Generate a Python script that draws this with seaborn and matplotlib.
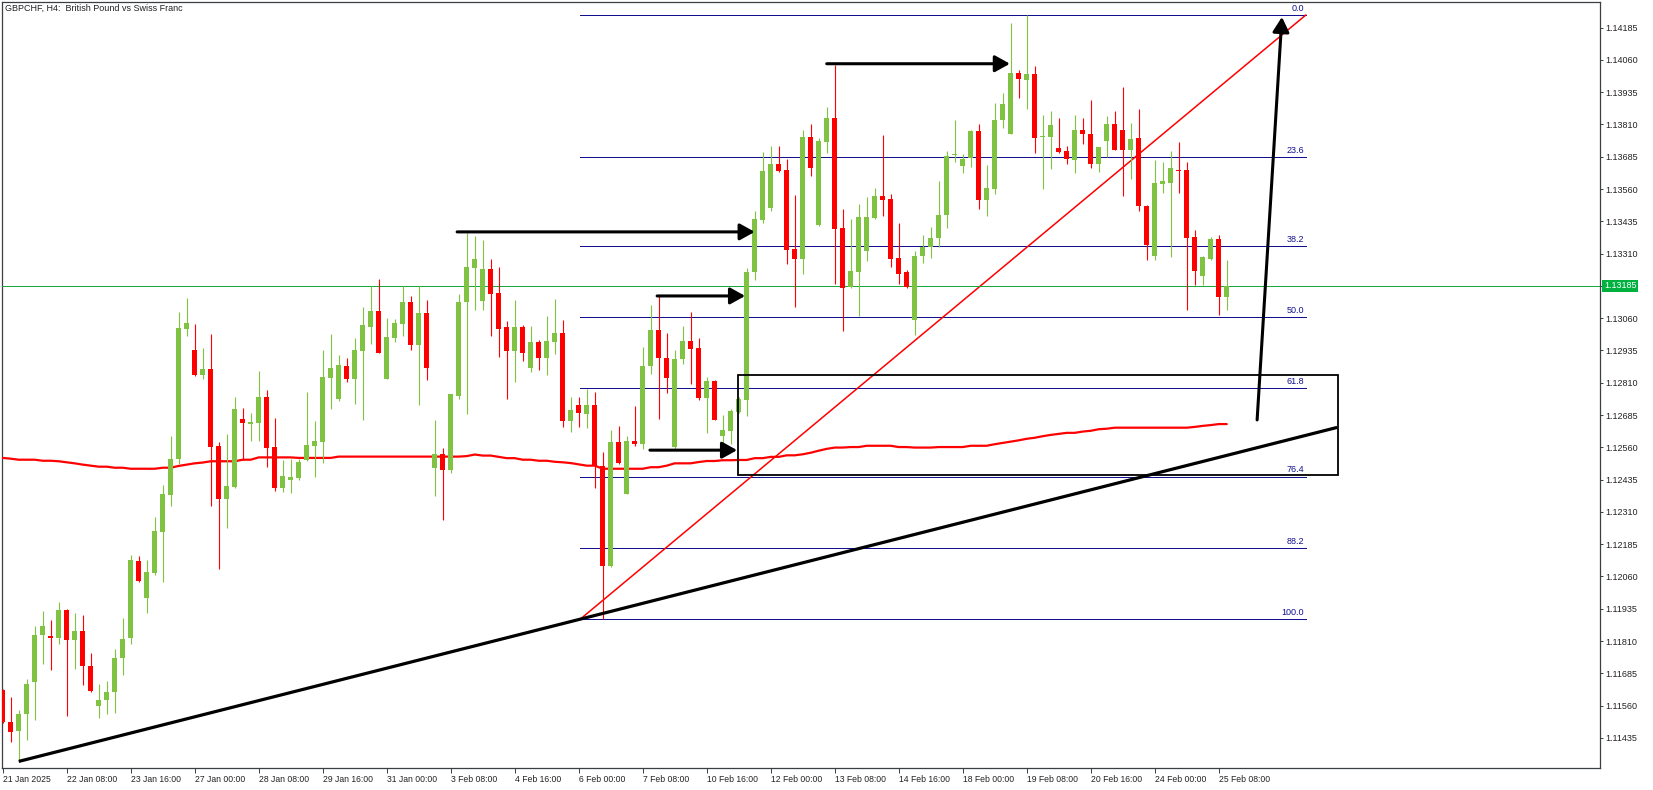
import numpy as np
import pandas as pd
import seaborn as sns
import matplotlib.pyplot as plt
from matplotlib.patches import Rectangle

# GBPCHF H4 candles, 21 Jan 2025 00:00 .. 25 Feb 2025 12:00
open_ = [1.11619, 1.11497, 1.11460, 1.11526, 1.11650, 1.11832, 1.11828, 1.11820, 1.11931, 1.11815,
         1.11850, 1.11714, 1.11557, 1.11583, 1.11611, 1.11746, 1.11820, 1.12120, 1.11975, 1.12075,
         1.12234, 1.12377, 1.12513, 1.13018, 1.12937, 1.12840, 1.12863, 1.12565, 1.12358, 1.12407,
         1.12670, 1.12652, 1.12656, 1.12755, 1.12562, 1.12403, 1.12434, 1.12442, 1.12511, 1.12565,
         1.12581, 1.12829, 1.12747, 1.12875, 1.12825, 1.12933, 1.13026, 1.13088, 1.12825, 1.12983,
         1.13038, 1.13123, 1.12956, 1.13080, 1.12480, 1.12535, 1.12473, 1.12759, 1.13123, 1.13254,
         1.13127, 1.13251, 1.13158, 1.13026, 1.12933, 1.13026, 1.12867, 1.12968, 1.12906, 1.12968,
         1.13003, 1.12662, 1.12724, 1.12689, 1.12724, 1.12486, 1.12102, 1.12581, 1.12381, 1.12585,
         1.12571, 1.12873, 1.13014, 1.12906, 1.12563, 1.12900, 1.12972, 1.12945, 1.12749, 1.12817,
         1.12605, 1.12625, 1.12698, 1.12745, 1.13239, 1.13440, 1.13487, 1.13657, 1.13634, 1.13328,
         1.13289, 1.13761, 1.13421, 1.13742, 1.13835, 1.13409, 1.13181, 1.13239, 1.13320, 1.13448,
         1.13533, 1.13521, 1.13293, 1.13239, 1.13053, 1.13301, 1.13336, 1.13370, 1.13459, 1.13692,
         1.13649, 1.13680, 1.13784, 1.13518, 1.13559, 1.13826, 1.13774, 1.14009, 1.13982, 1.14005,
         1.13760, 1.13763, 1.13719, 1.13707, 1.13674, 1.13788, 1.13773, 1.13658, 1.13746, 1.13812,
         1.13788, 1.13712, 1.13757, 1.13496, 1.13301, 1.13581, 1.13583, 1.13634, 1.13634, 1.13374,
         1.13223, 1.13289, 1.13367, 1.13140]
high = [1.11624, 1.11595, 1.11544, 1.11664, 1.11869, 1.11927, 1.11892, 1.11963, 1.11933, 1.11920,
        1.11911, 1.11763, 1.11644, 1.11656, 1.11780, 1.11900, 1.12144, 1.12140, 1.12124, 1.12292,
        1.12414, 1.12604, 1.13084, 1.13138, 1.13038, 1.12945, 1.12999, 1.12580, 1.12612, 1.12755,
        1.12712, 1.12693, 1.12856, 1.12782, 1.12674, 1.12511, 1.12515, 1.12515, 1.12774, 1.12662,
        1.12937, 1.12999, 1.12918, 1.12906, 1.12983, 1.13103, 1.13185, 1.13212, 1.13061, 1.13057,
        1.13185, 1.13146, 1.13185, 1.13131, 1.12666, 1.12558, 1.12767, 1.13154, 1.13390, 1.13378,
        1.13363, 1.13289, 1.13258, 1.13049, 1.13131, 1.13034, 1.13030, 1.12976, 1.13069, 1.13134,
        1.13053, 1.12755, 1.12755, 1.12786, 1.12774, 1.12540, 1.12627, 1.12643, 1.12604, 1.12720,
        1.12949, 1.13111, 1.13146, 1.13003, 1.12937, 1.13030, 1.13084, 1.12983, 1.12832, 1.12821,
        1.12685, 1.12709, 1.12756, 1.13253, 1.13475, 1.13703, 1.13727, 1.13727, 1.13676, 1.13537,
        1.13788, 1.13812, 1.13757, 1.13877, 1.14040, 1.13483, 1.13444, 1.13502, 1.13529, 1.13564,
        1.13769, 1.13541, 1.13429, 1.13247, 1.13320, 1.13382, 1.13413, 1.13591, 1.13707, 1.13827,
        1.13696, 1.13788, 1.13812, 1.13653, 1.13893, 1.13932, 1.14203, 1.14021, 1.14234, 1.14036,
        1.13847, 1.13862, 1.13836, 1.13727, 1.13847, 1.13835, 1.13905, 1.13723, 1.13843, 1.13862,
        1.13955, 1.13816, 1.13870, 1.13498, 1.13672, 1.13665, 1.13707, 1.13742, 1.13665, 1.13401,
        1.13301, 1.13374, 1.13382, 1.13285]
low = [1.11492, 1.11421, 1.11344, 1.11428, 1.11505, 1.11722, 1.11699, 1.11799, 1.11521, 1.11701,
       1.11641, 1.11614, 1.11514, 1.11528, 1.11533, 1.11679, 1.11800, 1.12039, 1.11920, 1.12064,
       1.12040, 1.12331, 1.12497, 1.12992, 1.12836, 1.12826, 1.12331, 1.12089, 1.12246, 1.12403,
       1.12511, 1.12585, 1.12585, 1.12484, 1.12391, 1.12387, 1.12384, 1.12434, 1.12507, 1.12445,
       1.12500, 1.12709, 1.12740, 1.12813, 1.12728, 1.12666, 1.12960, 1.12925, 1.12825, 1.12968,
       1.12991, 1.12937, 1.12724, 1.12821, 1.12372, 1.12279, 1.12461, 1.12747, 1.12689, 1.13092,
       1.13092, 1.12991, 1.12910, 1.12747, 1.12813, 1.12894, 1.12852, 1.12860, 1.12840, 1.12922,
       1.12639, 1.12620, 1.12639, 1.12635, 1.12403, 1.11895, 1.12095, 1.12497, 1.12381, 1.12567,
       1.12555, 1.12845, 1.12671, 1.12772, 1.12555, 1.12884, 1.12807, 1.12745, 1.12617, 1.12667,
       1.12574, 1.12574, 1.12692, 1.12683, 1.13208, 1.13428, 1.13475, 1.13626, 1.13270, 1.13103,
       1.13231, 1.13610, 1.13417, 1.13699, 1.13192, 1.13011, 1.13177, 1.13069, 1.13281, 1.13444,
       1.13456, 1.13258, 1.13192, 1.13176, 1.12995, 1.13274, 1.13293, 1.13336, 1.13409, 1.13665,
       1.13622, 1.13645, 1.13483, 1.13454, 1.13541, 1.13795, 1.13774, 1.13912, 1.13870, 1.13698,
       1.13560, 1.13638, 1.13699, 1.13657, 1.13622, 1.13734, 1.13641, 1.13626, 1.13684, 1.13712,
       1.13533, 1.13599, 1.13476, 1.13285, 1.13285, 1.13545, 1.13297, 1.13545, 1.13092, 1.13189,
       1.13189, 1.13285, 1.13072, 1.13092]
close = [1.11495, 1.11456, 1.11528, 1.11644, 1.11834, 1.11869, 1.11820, 1.11931, 1.11815, 1.11850,
         1.11712, 1.11617, 1.11583, 1.11614, 1.11745, 1.11819, 1.12124, 1.12043, 1.12078, 1.12236,
         1.12380, 1.12515, 1.13022, 1.13041, 1.12840, 1.12863, 1.12563, 1.12358, 1.12411, 1.12709,
         1.12656, 1.12658, 1.12755, 1.12558, 1.12403, 1.12449, 1.12445, 1.12504, 1.12569, 1.12585,
         1.12832, 1.12867, 1.12879, 1.12825, 1.12937, 1.13034, 1.13088, 1.12925, 1.12987, 1.13041,
         1.13123, 1.12956, 1.13080, 1.12867, 1.12535, 1.12473, 1.12767, 1.13123, 1.13258, 1.13289,
         1.13251, 1.13154, 1.13018, 1.12933, 1.13026, 1.12925, 1.12968, 1.12906, 1.12972, 1.13003,
         1.12662, 1.12705, 1.12693, 1.12724, 1.12486, 1.12102, 1.12581, 1.12501, 1.12585, 1.12571,
         1.12875, 1.13014, 1.12904, 1.12830, 1.12902, 1.12972, 1.12942, 1.12749, 1.12817, 1.12667,
         1.12627, 1.12701, 1.12747, 1.13239, 1.13444, 1.13630, 1.13657, 1.13630, 1.13324, 1.13289,
         1.13761, 1.13641, 1.13746, 1.13835, 1.13405, 1.13177, 1.13243, 1.13452, 1.13452, 1.13533,
         1.13518, 1.13289, 1.13231, 1.13181, 1.13301, 1.13336, 1.13370, 1.13459, 1.13688, 1.13696,
         1.13676, 1.13784, 1.13518, 1.13564, 1.13827, 1.13889, 1.14009, 1.13986, 1.14005, 1.13759,
         1.13765, 1.13808, 1.13703, 1.13676, 1.13788, 1.13773, 1.13657, 1.13723, 1.13812, 1.13712,
         1.13712, 1.13754, 1.13496, 1.13343, 1.13583, 1.13591, 1.13641, 1.13630, 1.13370, 1.13243,
         1.13297, 1.13367, 1.13140, 1.13185]
ma_line = [1.12519, 1.12516, 1.12512, 1.12512, 1.12512, 1.12508, 1.12508, 1.12506, 1.12502, 1.12498,
           1.12493, 1.12489, 1.12485, 1.12485, 1.12481, 1.12481, 1.12477, 1.12477, 1.12477, 1.12477,
           1.12481, 1.12481, 1.12488, 1.12493, 1.12498, 1.12501, 1.12506, 1.12506, 1.12506, 1.12506,
           1.12512, 1.12512, 1.12521, 1.12521, 1.12521, 1.12521, 1.12521, 1.12519, 1.12519, 1.12519,
           1.12519, 1.12519, 1.12524, 1.12524, 1.12524, 1.12524, 1.12524, 1.12524, 1.12524, 1.12524,
           1.12524, 1.12524, 1.12524, 1.12524, 1.12524, 1.12524, 1.12524, 1.12524, 1.12526, 1.12532,
           1.12528, 1.12528, 1.12523, 1.12518, 1.12518, 1.12512, 1.12512, 1.12508, 1.12508, 1.12504,
           1.12502, 1.12499, 1.12494, 1.12489, 1.12489, 1.12477, 1.12477, 1.12477, 1.12477, 1.12477,
           1.12477, 1.12483, 1.12483, 1.12489, 1.12498, 1.12498, 1.12498, 1.12503, 1.12507, 1.12507,
           1.12510, 1.12510, 1.12511, 1.12511, 1.12518, 1.12518, 1.12523, 1.12523, 1.12529, 1.12529,
           1.12533, 1.12539, 1.12547, 1.12554, 1.12559, 1.12559, 1.12561, 1.12561, 1.12566, 1.12566,
           1.12566, 1.12566, 1.12561, 1.12561, 1.12559, 1.12559, 1.12559, 1.12561, 1.12561, 1.12561,
           1.12561, 1.12566, 1.12566, 1.12566, 1.12572, 1.12577, 1.12582, 1.12587, 1.12593, 1.12597,
           1.12603, 1.12608, 1.12612, 1.12616, 1.12616, 1.12621, 1.12624, 1.12630, 1.12632, 1.12636,
           1.12636, 1.12636, 1.12636, 1.12636, 1.12636, 1.12636, 1.12636, 1.12636, 1.12636, 1.12639,
           1.12643, 1.12646, 1.12650, 1.12650]

x_tick_pos = [0, 8, 16, 24, 32, 40, 48, 56, 64, 72, 80, 88, 96, 104, 112, 120, 128, 136, 144, 152]
x_tick_labels = ["21 Jan 2025", "22 Jan 08:00", "23 Jan 16:00", "27 Jan 00:00", "28 Jan 08:00",
                 "29 Jan 16:00", "31 Jan 00:00", "3 Feb 08:00", "4 Feb 16:00", "6 Feb 00:00",
                 "7 Feb 08:00", "10 Feb 16:00", "12 Feb 00:00", "13 Feb 08:00", "14 Feb 16:00",
                 "18 Feb 00:00", "19 Feb 08:00", "20 Feb 16:00", "24 Feb 00:00", "25 Feb 08:00"]
y_tick_labels = ["1.11435", "1.11560", "1.11685", "1.11810", "1.11935", "1.12060", "1.12185",
                 "1.12310", "1.12435", "1.12560", "1.12685", "1.12810", "1.12935", "1.13060",
                 "1.13185", "1.13310", "1.13435", "1.13560", "1.13685", "1.13810", "1.13935",
                 "1.14060", "1.14185"]
last_price = 1.13185

# Fibonacci retracement (swing low 6 Feb -> swing high 19 Feb)
fib_levels = [0.0, 23.6, 38.2, 50.0, 61.8, 76.4, 88.2, 100.0]
fib_high, fib_low = 1.14234, 1.11895
fib_x = [72.2, 162.9]

# drawn objects
trend_x, trend_y = [2.0, 166.8], [1.11344, 1.12637]
zone_x, zone_y = [91.9, 166.9], [1.12453, 1.12841]
arrow_x0 = [56.8, 81.8, 80.9, 103.0]
arrow_x1 = [94.0, 92.8, 91.8, 125.9]
arrow_y = [1.13394, 1.13146, 1.12549, 1.14045]
big_arrow = [(156.8, 1.12666), (159.9, 1.14226)]

bull, bear = "#80c342", "#ff0000"
navy = "#101090"

sns.set_theme(style="white")
plt.rcParams["font.family"] = ["Liberation Sans", "DejaVu Sans"]

W, H = 1653, 790
fig = plt.figure(figsize=(W / 100, H / 100), dpi=100)
fig.patch.set_facecolor("white")
ax = fig.add_axes([2 / W, (H - 768) / H, 1598 / W, 766 / H])
ax.set_facecolor("white")

o = np.array(open_); h = np.array(high); l = np.array(low); c = np.array(close)
idx = np.arange(len(c))
cols = np.where(c >= o, bull, bear)

# moving average
ma_df = pd.DataFrame({"bar": idx, "ma": ma_line})
sns.lineplot(data=ma_df, x="bar", y="ma", ax=ax, color="#ff0000", lw=1.6, zorder=3)

# fibonacci
rng = fib_high - fib_low
for lv in fib_levels:
    yv = fib_high - rng * lv / 100
    ax.plot(fib_x, [yv, yv], color=navy, lw=0.5, zorder=2, antialiased=False)
    ax.text(fib_x[1] - 0.2, yv + 0.00008, f"{lv:.1f}", color=navy, fontsize=6.5,
            ha="right", va="bottom", zorder=6)
ax.plot(fib_x, [fib_low, fib_high], color="#ff0000", lw=1.1, zorder=4)

# candles
ax.vlines(idx, l, h, colors=cols, lw=0.8, zorder=5)
body_lo = np.minimum(o, c)
body_h = np.maximum(np.abs(c - o), 0.00003)
ax.bar(idx, body_h, bottom=body_lo, width=0.62, color=cols, linewidth=0, zorder=5)

# last price
ax.axhline(last_price, color="#18a83c", lw=0.5, zorder=4, antialiased=False)

# black trendline and zone
ax.plot(trend_x, trend_y, color="black", lw=2.3, zorder=6, solid_capstyle="butt")
ax.add_patch(Rectangle((zone_x[0], zone_y[0]), zone_x[1] - zone_x[0], zone_y[1] - zone_y[0],
                       fill=False, ec="black", lw=1.3, zorder=6))

arrow_style = dict(arrowstyle="-|>,head_length=0.45,head_width=0.25", color="black", lw=2.2,
                   shrinkA=0, shrinkB=0, mutation_scale=20)
for x0, x1, yv in zip(arrow_x0, arrow_x1, arrow_y):
    ax.annotate("", xy=(x1, yv), xytext=(x0, yv), arrowprops=arrow_style, zorder=7)
ax.annotate("", xy=big_arrow[1], xytext=big_arrow[0], arrowprops=arrow_style, zorder=7)

# axes styling
ax.set_xlim(-0.09, 199.66)
ax.set_ylim(1.113185, 1.14284)
ax.set_xlabel(""); ax.set_ylabel("")
for s in ax.spines.values():
    s.set_color("#3a3f44"); s.set_linewidth(0.9)

yvals = [float(t) for t in y_tick_labels]
ax.yaxis.tick_right()
ax.set_yticks(yvals)
ax.set_yticklabels([t if t != f"{last_price:.5f}" else "" for t in y_tick_labels])
ax.tick_params(axis="y", which="both", right=True, left=False, direction="out", length=2.5,
               width=0.7, color="#3a3f44", pad=1, labelsize=6.5, labelcolor="#222222")
ax.set_xticks(x_tick_pos)
ax.set_xticklabels(x_tick_labels, ha="left")
ax.tick_params(axis="x", which="both", bottom=True, direction="out", length=3.5, width=0.7,
               color="#3a3f44", pad=1.5, labelsize=6.2, labelcolor="#222222")

ax.annotate(f"{last_price:.5f}", xy=(1.0, last_price), xycoords=("axes fraction", "data"),
            xytext=(3, 0), textcoords="offset points", ha="left", va="center", fontsize=6.5,
            color="white", bbox=dict(boxstyle="square,pad=0.2", fc="#00b140", ec="none"))

fig.text(5 / W, 1 - 8 / H, "GBPCHF, H4:  British Pound vs Swiss Franc", fontsize=6.5,
         ha="left", va="center", color="#222222")

fig.savefig("out.png", dpi=100, facecolor="white")
